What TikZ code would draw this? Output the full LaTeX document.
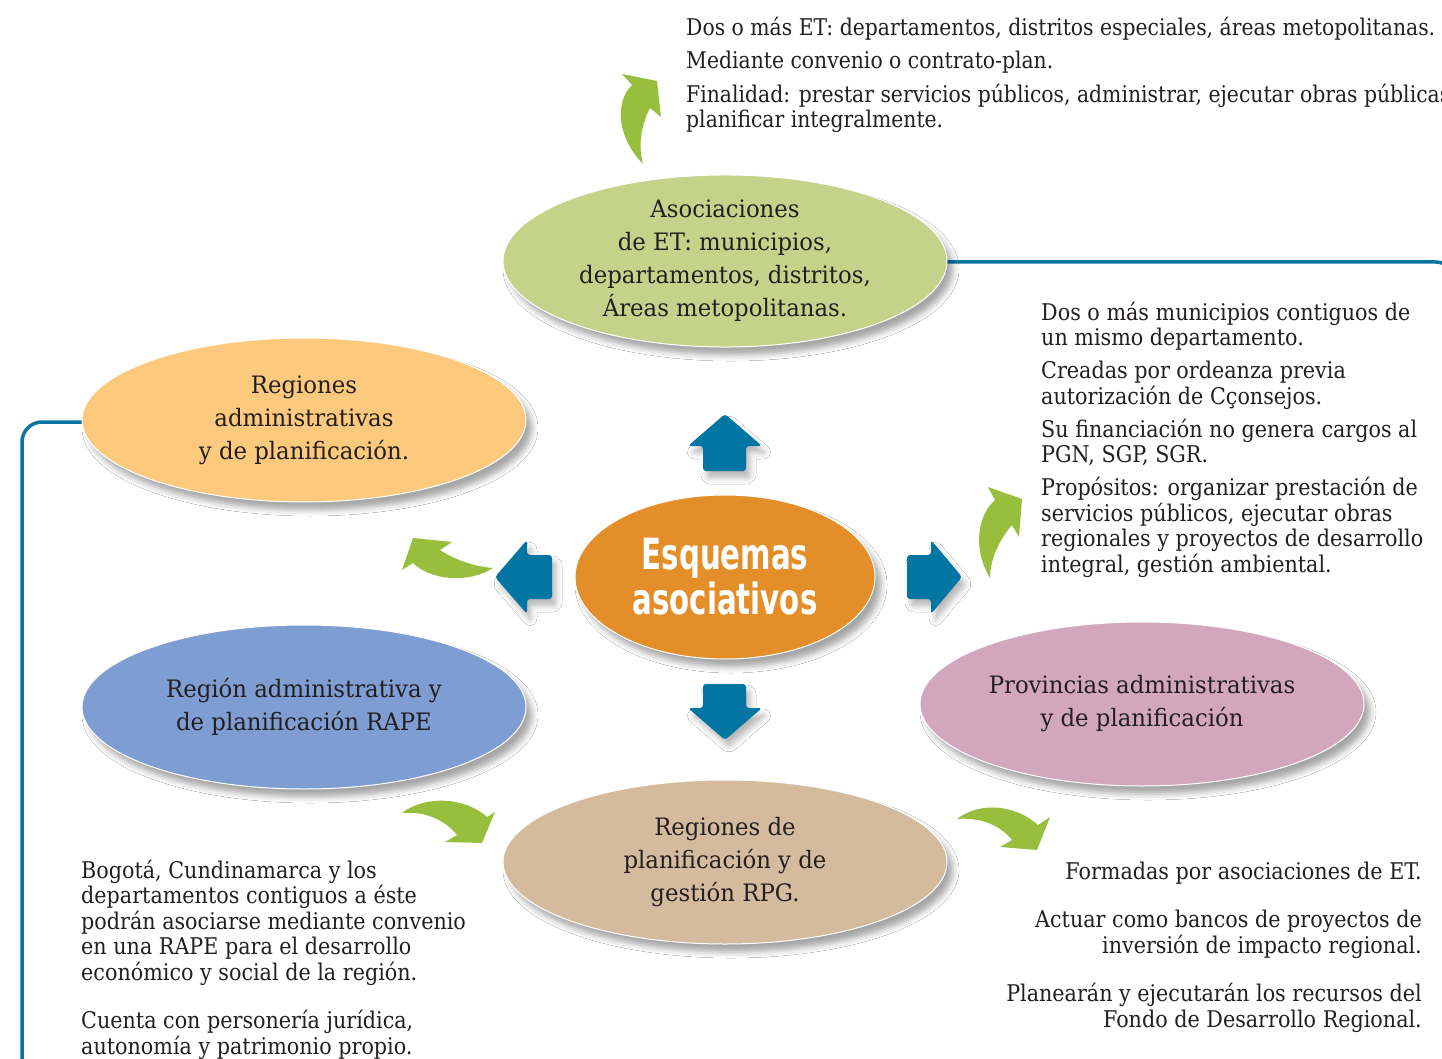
\documentclass[tikz,border=0pt]{standalone}
\usepackage{fontspec}
\usetikzlibrary{shapes.geometric,shadows.blur}
\newfontfamily\bodyfont{DejaVu Serif}[FakeStretch=0.9]
\newfontfamily\topfont{DejaVu Serif}[FakeStretch=0.885]
\newfontfamily\ovalfont{DejaVu Serif}[FakeStretch=0.95]
\newfontfamily\titlefont{DejaVu Sans Bold}[FakeStretch=0.68]
\definecolor{txt}{RGB}{35,31,32}
\definecolor{cAsoc}{RGB}{197,211,138}
\definecolor{cRegAdm}{RGB}{253,201,125}
\definecolor{cCenter}{RGB}{228,142,42}
\definecolor{cRape}{RGB}{126,157,211}
\definecolor{cProv}{RGB}{210,167,189}
\definecolor{cRpg}{RGB}{213,187,157}
\definecolor{cBlue}{RGB}{2,117,163}
\definecolor{cLine}{RGB}{12,116,162}
\definecolor{cGreen}{RGB}{151,191,61}
\tikzset{
  oval/.style={ellipse, draw=white, line width=1pt, minimum width=444pt, minimum height=164pt,
    inner sep=0pt, align=center, text=txt, font=\ovalfont\fontsize{24}{33}\selectfont,
    blur shadow={shadow xshift=6pt, shadow yshift=-8pt, shadow blur radius=6pt, shadow opacity=35}},
  bodytext/.style={inner sep=0pt, text=txt, font=\bodyfont\fontsize{23}{25.5}\selectfont},
  blockarrow/.style={fill=cBlue, rounded corners=3pt,
    blur shadow={shadow xshift=4pt, shadow yshift=-7pt, shadow blur radius=6pt, shadow opacity=28}},
  greenarrow/.style={fill=cGreen},
  teal/.style={draw=cLine, line width=3.5pt, rounded corners=20pt},
}
\begin{document}
\begin{tikzpicture}[x=1pt,y=-1pt]
\useasboundingbox[fill=white] (0,0) rectangle (1442,1059);

% connectors (behind ellipses)
\coordinate (rEnd) at (1456,320);
\coordinate (lEnd) at (22,1062);
\draw[teal] (940,262) -- (1456,262) -- (rEnd);
\draw[teal] (90,422) -- (22,422) -- (lEnd);

% ellipses
\node[oval, fill=cAsoc] (asoc) at (725,261) {Asociaciones\\de ET: municipios,\\departamentos, distritos,\\Áreas metopolitanas.};
\node[oval, fill=cRegAdm] (regadm) at (304,420) {Regiones\\administrativas\\y de planificación.};
\node[oval, fill=cCenter, minimum width=300pt, minimum height=164pt,
  font=\titlefont\fontsize{43}{45}\selectfont, text=white] (center) at (725,577) {Esquemas\\asociativos};
\node[oval, fill=cRape] (rape) at (304,707) {Región administrativa y\\de planificación RAPE};
\node[oval, fill=cProv] (prov) at (1142,704) {Provincias administrativas\\y de planificación};
\node[oval, fill=cRpg] (rpg) at (725,862) {Regiones de\\planificación y de\\gestión RPG.};

% blue block arrows
\path[blockarrow] (703,471) -- (703,446) -- (688,446) -- (725,414) -- (762,446) -- (746,446) -- (746,471) -- cycle;
\path[blockarrow] (703,684) -- (746,684) -- (746,708) -- (762,708) -- (725,740) -- (688,708) -- (703,708) -- cycle;
\path[blockarrow] (552,555) -- (527,555) -- (527,540) -- (495,577) -- (527,614) -- (527,599) -- (552,599) -- cycle;
\path[blockarrow] (907,555) -- (931,555) -- (931,540) -- (962,577) -- (931,614) -- (931,599) -- (907,599) -- cycle;

% green curved arrows
\path[greenarrow] (643,164) .. controls (615,135) and (616,100) .. (632,85) -- (622,74) -- (657,81) -- (661,117) -- (650,108) .. controls (641,125) and (638,145) .. (643,164) -- cycle;
\path[greenarrow] (990,578) .. controls (972,548) and (978,515) .. (995,500) -- (988,487) -- (1022,499) -- (1019,537) -- (1012,525) .. controls (999,540) and (990,560) .. (990,578) -- cycle;
\path[greenarrow] (493,568) .. controls (470,566) and (452,558) .. (440,550) -- (452,542) -- (413,538) -- (402,570) -- (413,563) .. controls (430,580) and (468,584) .. (493,568) -- cycle;
\path[greenarrow] (402,813) .. controls (425,795) and (465,797) .. (487,817) -- (495,812) -- (482,843) -- (445,842) -- (457,835) .. controls (445,820) and (425,811) .. (402,813) -- cycle;
\path[greenarrow] (957,819) .. controls (980,801) and (1016,805) .. (1038,825) -- (1050,817) -- (1037,850) -- (1000,847) -- (1012,840) .. controls (1000,825) and (980,817) .. (957,819) -- cycle;

% texts (base anchor = baseline of the last line)
\node[bodytext, font=\topfont\fontsize{23}{25.5}\selectfont, align=left, anchor=base west] (t1) at (686,128) {Dos o más ET: departamentos, distritos especiales, áreas metopolitanas.\\[7.5pt]
Mediante convenio o contrato-plan.\\[8.5pt]
Finalidad: prestar servicios públicos, administrar, ejecutar obras públicas,\\
planificar integralmente.};
\node[bodytext, align=left, anchor=base west] (t2) at (1041,572) {Dos o más municipios contiguos de\\
un mismo departamento.\\[7.5pt]
Creadas por ordeanza previa\\
autorización de Cçonsejos.\\[7.5pt]
Su financiación no genera cargos al\\
PGN, SGP, SGR.\\[7.5pt]
Propósitos: organizar prestación de\\
servicios públicos, ejecutar obras\\
regionales y proyectos de desarrollo\\
integral, gestión ambiental.};
\node[bodytext, align=left, anchor=base west] (t3) at (81,1054) {Bogotá, Cundinamarca y los\\
departamentos contiguos a éste\\
podrán asociarse mediante convenio\\
en una RAPE para el desarrollo\\
económico y social de la región.\\[23pt]
Cuenta con personería jurídica,\\
autonomía y patrimonio propio.};
\node[bodytext, align=right, anchor=base east] (t4) at (1422,1027) {Formadas por asociaciones de ET.\\[23pt]
Actuar como bancos de proyectos de\\
inversión de impacto regional.\\[23pt]
Planearán y ejecutarán los recursos del\\
Fondo de Desarrollo Regional.};
\end{tikzpicture}
\end{document}
